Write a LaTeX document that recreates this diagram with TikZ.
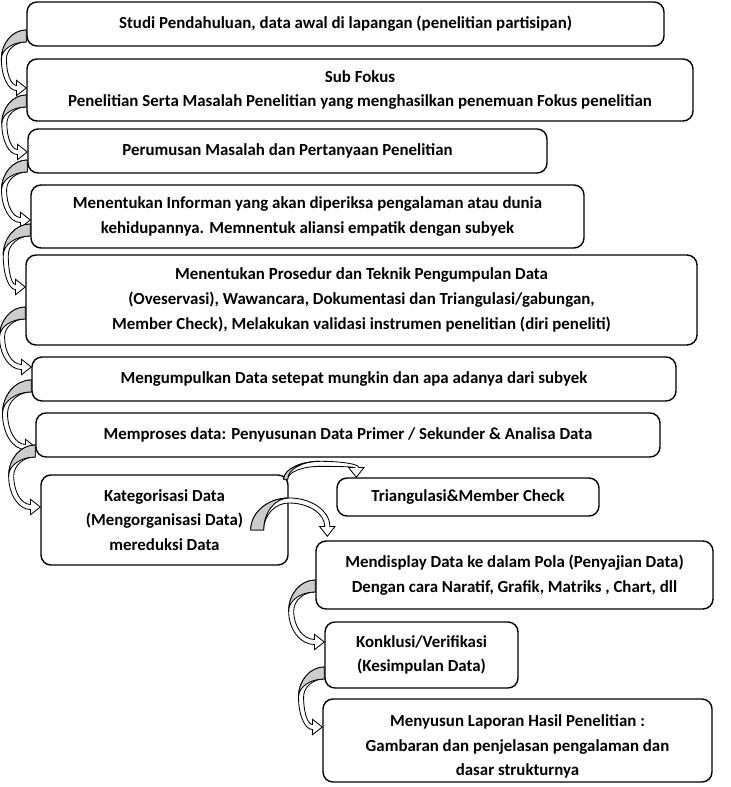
\documentclass[tikz,border=0pt]{standalone}
\usepackage{fontspec}
\setmainfont{Carlito}
\usetikzlibrary{calc}

% curved block arrow on the left side: #1 top of the band at the source box, #2 tip
\newcommand{\leftbend}[2]{%
  \draw[bendline, fill=white] let \p1=#1, \p2=#2, \n1={\y1-\y2}, \n2={\x1-0.43*\n1},
      \n3={(\y1+\y2)/2}, \n4={\x2-7pt} in
    (\x1,\y1) .. controls ({\x1-0.55*(\x1-\n2)},\y1) and (\n2,{\n3+0.55*(\y1-\n3)}) .. (\n2,\n3)
    .. controls (\n2,{\n3-0.55*(\n3-\y2+1.8pt)}) and ({\n4-0.55*(\n4-\n2)},{\y2-1.8pt}) .. (\n4,{\y2-1.8pt})
    -- (\n4,{\y2-5.5pt}) -- (\x2,\y2) -- (\n4,{\y2+5.5pt}) -- (\n4,{\y2+1.8pt})
    .. controls ({\n4-0.55*(\n4-\n2-3.6pt)},{\y2+1.8pt}) and ({\n2+3.6pt},{\n3-0.55*(\n3-\y2-1.8pt)}) .. ({\n2+3.6pt},\n3)
    .. controls ({\n2+3.6pt},{\n3+0.55*(\y1-8.5pt-\n3)}) and ({\x1-0.55*(\x1-\n2-3.6pt)},{\y1-8.5pt}) .. (\x1,{\y1-8.5pt})
    -- cycle;
  \draw[bendline, fill=bandgray] let \p1=#1, \p2=#2, \n1={\y1-\y2}, \n2={\x1-0.43*\n1},
      \n3={(\y1+\y2)/2} in
    (\x1,\y1) .. controls ({\x1-0.55*(\x1-\n2)},\y1) and (\n2,{\n3+0.55*(\y1-\n3)}) .. (\n2,\n3)
    .. controls (\n2,{\n3+0.55*(\y1-8.5pt-\n3)}) and ({\x1-0.55*(\x1-\n2)},{\y1-8.5pt}) .. (\x1,{\y1-8.5pt})
    -- cycle;
}

% curved block arrow over the top: #1 start, #2 tip, #3 rise, #4 width of the grey part
\newcommand{\topbend}[4]{%
  \draw[bendline, fill=white] let \p1=#1, \p2=#2, \n1={\y1+#3}, \n2={(\x1+\x2)/2},
      \n3={\y2+7pt} in
    (\x1,\y1) .. controls (\x1,{\y1+0.55*(\n1-\y1)}) and ({\n2-0.55*(\n2-\x1)},\n1) .. (\n2,\n1)
    .. controls ({\n2+0.55*(\x2+1.8pt-\n2)},\n1) and ({\x2+1.8pt},{\n3+0.55*(\n1-\n3)}) .. ({\x2+1.8pt},\n3)
    -- ({\x2+5.5pt},\n3) -- (\x2,\y2) -- ({\x2-5.5pt},\n3) -- ({\x2-1.8pt},\n3)
    .. controls ({\x2-1.8pt},{\n3+0.55*(\n1-3.6pt-\n3)}) and ({\n2+0.55*(\x2-1.8pt-\n2)},{\n1-3.6pt}) .. (\n2,{\n1-3.6pt})
    .. controls ({\n2-0.55*(\n2-\x1-#4)},{\n1-3.6pt}) and ({\x1+#4},{\y1+0.55*(\n1-3.6pt-\y1)}) .. ({\x1+#4},\y1)
    -- cycle;
  \draw[bendline, fill=bandgray] let \p1=#1, \p2=#2, \n1={\y1+#3}, \n2={(\x1+\x2)/2} in
    (\x1,\y1) .. controls (\x1,{\y1+0.55*(\n1-\y1)}) and ({\n2-0.55*(\n2-\x1)},\n1) .. (\n2,\n1)
    .. controls ({\n2-0.55*(\n2-\x1-#4)},\n1) and ({\x1+#4},{\y1+0.55*(\n1-\y1)}) .. ({\x1+#4},\y1)
    -- cycle;
}

\definecolor{bandgray}{gray}{0.8}

\begin{document}
\begin{tikzpicture}[x=0.025cm, y=-0.025cm, align=center]
	% Node styles
	\tikzstyle{process} = [rectangle, draw, line width=1pt, rounded corners=0.25cm, inner sep=2pt, font=\fontsize{12}{17.5}\selectfont\bfseries]
	\tikzstyle{bendline} = [draw=black, line width=0.6pt]
	
	\useasboundingbox (0,0) rectangle (730,787);
	
	% Nodes
	\node[process, minimum width=637*0.025cm, minimum height=44*0.025cm] (studi) at (345.5,24) {Studi Pendahuluan, data awal di lapangan (penelitian partisipan)};
	\node[process, minimum width=666*0.025cm, minimum height=62*0.025cm] (fokus) at (360,90) {Sub Fokus\\Penelitian Serta Masalah Penelitian yang menghasilkan penemuan Fokus penelitian};
	\node[process, minimum width=519*0.025cm, minimum height=44*0.025cm] (rumus) at (287.5,151) {Perumusan Masalah dan Pertanyaan Penelitian};
	\node[process, minimum width=553*0.025cm, minimum height=63*0.025cm] (informan) at (307.5,216.5) {Menentukan Informan yang akan diperiksa pengalaman atau dunia\\kehidupannya. Memnentuk aliansi empatik dengan subyek};
	\node[process, minimum width=671*0.025cm, minimum height=90*0.025cm] (prosedur) at (361.5,300) {Menentukan Prosedur dan Teknik Pengumpulan Data\\(Oveservasi), Wawancara, Dokumentasi dan Triangulasi/gabungan,\\Member Check), Melakukan validasi instrumen penelitian (diri peneliti)};
	\node[process, minimum width=644*0.025cm, minimum height=44*0.025cm] (kumpul) at (354,379) {Mengumpulkan Data setepat mungkin dan apa adanya dari subyek};
	\node[process, minimum width=624*0.025cm, minimum height=44*0.025cm] (proses) at (348,435) {Memproses data: Penyusunan Data Primer / Sekunder \& Analisa Data};
	\node[process, minimum width=247*0.025cm, minimum height=90*0.025cm] (kategori) at (164.5,520) {Kategorisasi Data\\(Mengorganisasi Data)\\mereduksi Data};
	\node[process, minimum width=262*0.025cm, minimum height=38*0.025cm] (triang) at (468,497) {Triangulasi\&Member Check};
	\node[process, minimum width=397*0.025cm, minimum height=68*0.025cm] (display) at (514.5,575) {Mendisplay Data ke dalam Pola (Penyajian Data)\\Dengan cara Naratif, Grafik, Matriks , Chart, dll};
	\node[process, minimum width=193*0.025cm, minimum height=66*0.025cm] (konklusi) at (421.5,655) {Konklusi/Verifikasi\\(Kesimpulan Data)};
	\node[process, minimum width=389*0.025cm, minimum height=83*0.025cm] (susun) at (517.5,740.5) {\rule{0pt}{17pt}Menyusun Laporan Hasil Penelitian :\\Gambaran dan penjelasan pengalaman dan\\dasar strukturnya};
	
	% Arrows
	\leftbend{($(studi.west)+(0,6)$)}{($(fokus.west)+(0,-2)$)}
	\leftbend{($(fokus.west)+(0,5)$)}{($(rumus.west)+(0,1)$)}
	\leftbend{($(rumus.west)+(0,9)$)}{($(informan.west)+(0,3.5)$)}
	\leftbend{($(informan.west)+(0,7.5)$)}{($(prosedur.west)+(0,-13)$)}
	\leftbend{($(prosedur.west)+(0,7)$)}{($(kumpul.west)+(0,-12)$)}
	\leftbend{($(kumpul.west)+(0,1)$)}{($(proses.west)+(0,12)$)}
	\leftbend{($(proses.west)+(0,10)$)}{($(kategori.west)+(0,-13)$)}
	\topbend{($(kategori.north east)+(-5,5)$)}{($(triang.north west)+(20,0)$)}{12.8pt}{2.8pt}
	\topbend{($(kategori.east)+(-38,10)$)}{($(display.north west)+(12,-4)$)}{22.8pt}{9.2pt}
	\leftbend{($(display.west)+(0,5)$)}{($(konklusi.west)+(0,-13)$)}
	\leftbend{($(konklusi.west)+(0,12)$)}{($(susun.west)+(0,-13.5)$)}
\end{tikzpicture}
\end{document}
